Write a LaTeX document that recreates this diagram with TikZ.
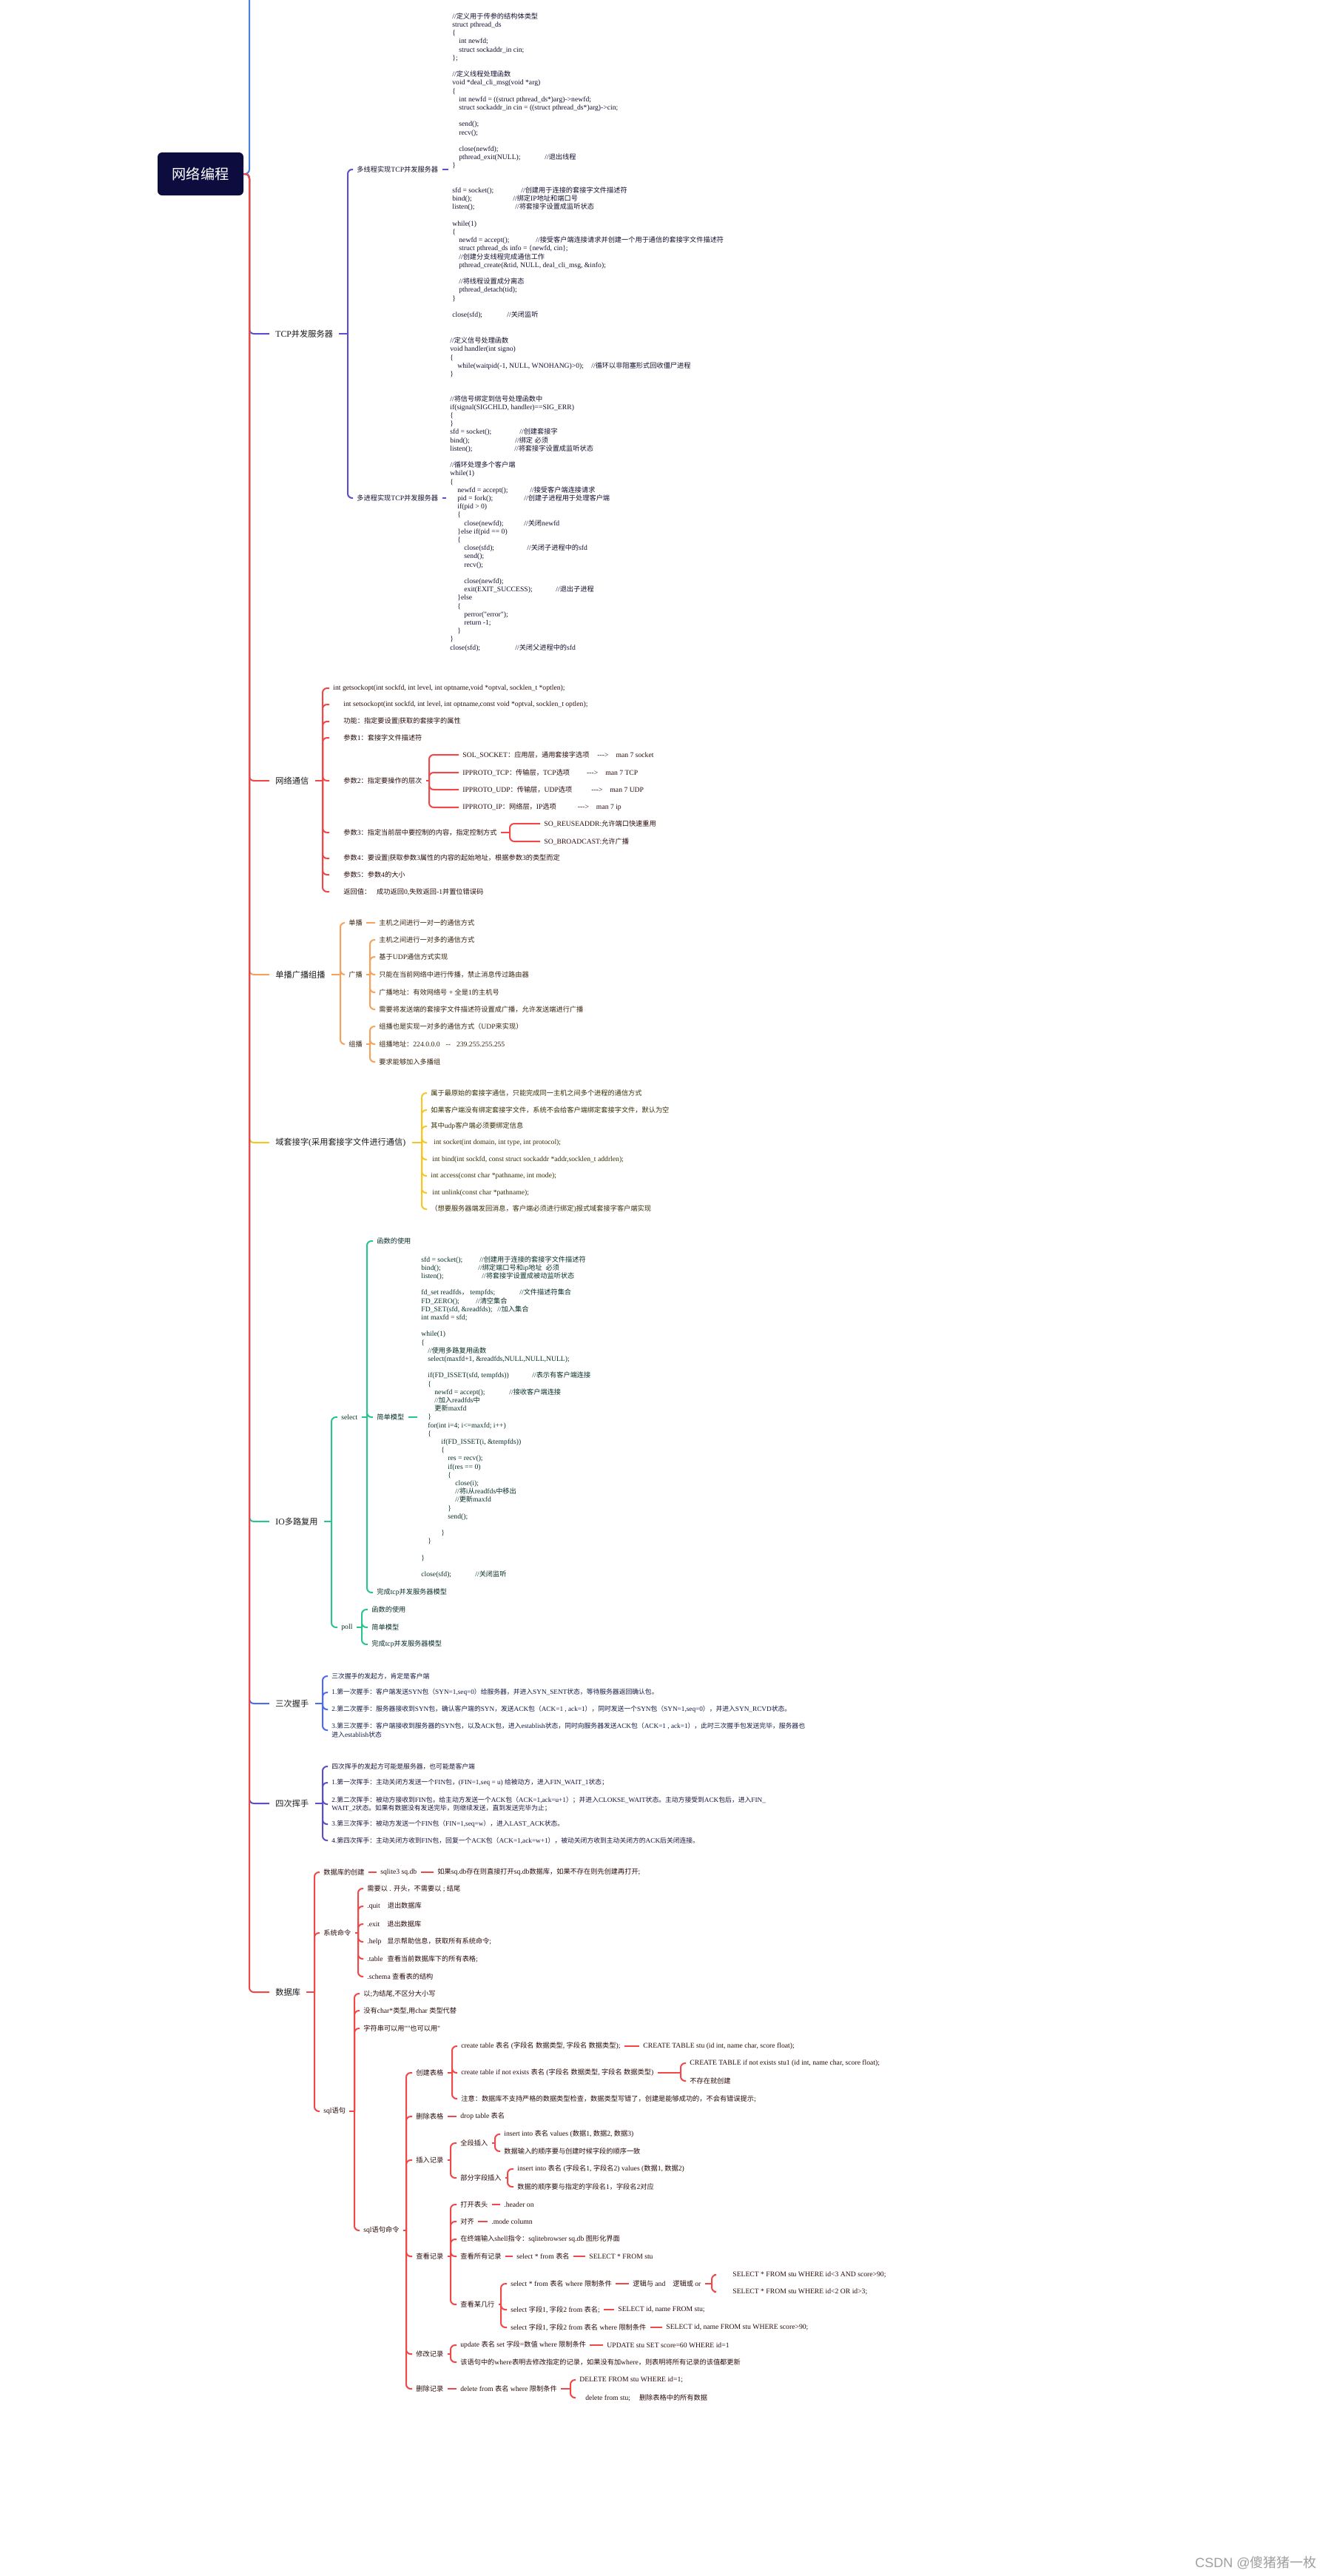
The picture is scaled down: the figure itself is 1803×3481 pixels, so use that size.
\documentclass[tikz,border=0pt]{standalone}
\usepackage{fontspec}
\setmainfont{Liberation Serif}[Ligatures=TeXOff, Scale=1.05]
\newfontfamily\cjkf{Noto Sans CJK SC}
\newfontfamily\wmf{Liberation Sans}
\usetikzlibrary{positioning}

% Chinese characters are set in Noto Sans CJK SC
\XeTeXinterchartokenstate=1
\newXeTeXintercharclass\cjkcls
\newcount\cc
\def\setcls#1#2#3{\cc=#1\relax\loop\XeTeXcharclass\cc=#3\relax\ifnum\cc<#2\relax\advance\cc by 1 \repeat}
\setcls{"21}{"7E}{0}
\setcls{"3000}{"303F}{\cjkcls}
\setcls{"4E00}{"9FFF}{\cjkcls}
\setcls{"FF00}{"FFEF}{\cjkcls}
\XeTeXinterchartoks 0 \cjkcls = {\cjkf}
\XeTeXinterchartoks 4095 \cjkcls = {\cjkf}
\XeTeXinterchartoks \cjkcls 0 = {\rmfamily}
\XeTeXinterchartoks \cjkcls 4095 = {\rmfamily}

\definecolor{rootbg}{HTML}{0C0C3E}
\definecolor{topblue}{HTML}{4A7FE0}
\definecolor{tcpline}{HTML}{5B4FCF}
\definecolor{netline}{HTML}{F04848}
\definecolor{castline}{HTML}{F5A25D}
\definecolor{unixline}{HTML}{F6C624}
\definecolor{ioline}{HTML}{2BC48C}
\definecolor{shakeline}{HTML}{4D6BF0}
\definecolor{waveline}{HTML}{5A4FC6}
\definecolor{dbline}{HTML}{F04848}
\definecolor{topictxt}{HTML}{1A1A1A}
\definecolor{tcptxt}{HTML}{141030}
\definecolor{nettxt}{HTML}{2C0C0C}
\definecolor{casttxt}{HTML}{38220C}
\definecolor{unixtxt}{HTML}{382E04}
\definecolor{iotxt}{HTML}{08302A}
\definecolor{shaketxt}{HTML}{121A44}
\definecolor{wavetxt}{HTML}{18143E}
\definecolor{dbtxt}{HTML}{2C0C0C}

% text placed at a column, offset in px
\newcommand{\cpos}[2]{\makebox[0pt][l]{\hspace*{\dimexpr#1pt/2\relax}#2}}

\begin{document}
\begin{tikzpicture}[x=0.5pt, y=-0.5pt,
  rootbox/.style={fill=rootbg, text=white, rounded corners=3pt, minimum width=58pt, minimum height=29pt, inner sep=0pt, font=\fontsize{9.6}{11}\selectfont},
  topic/.style={anchor=west, inner xsep=4pt, inner ysep=1pt, text=topictxt, font=\fontsize{5.6}{6.5}\selectfont},
  leaf/.style={anchor=west, inner xsep=2.5pt, inner ysep=1pt, align=left, font=\fontsize{4.6}{5.6}\selectfont},
  note/.style={leaf, font=\fontsize{4.4}{5.6}\selectfont},
  link/.style={line width=1pt, rounded corners=3pt}]
\fill[white] (0,0) rectangle (1803,3481);
\useasboundingbox (0,0) rectangle (1803,3481);

\node[rootbox] (root) at (271,235) {网络编程};
\coordinate (rootS) at (337,235);
\coordinate (topend) at (337,0);

\node[topic] (tcp) at (364,451) {TCP并发服务器};
\node[topic] (net) at (364,1055) {网络通信};
\node[topic] (cast) at (364,1317) {单播广播组播};
\node[topic] (unix) at (364,1544) {域套接字(采用套接字文件进行通信)};
\node[topic] (io) at (364,2056) {IO多路复用};
\node[topic] (shake) at (364,2302) {三次握手};
\node[topic] (wave) at (364,2437) {四次挥手};
\node[topic] (db) at (364,2692) {数据库};

% TCP
\begin{scope}[every node/.append style={text=tcptxt}]
\node[leaf] (mthr) at (477,229) {多线程实现TCP并发服务器};
\node[leaf] (mproc) at (477,673) {多进程实现TCP并发服务器};
\node[leaf] (mthrcode) at (606,224) {%
\cpos{0}{//定义用于传参的结构体类型}\\
\cpos{0}{struct pthread\_ds}\\
\cpos{0}{\{}\\
\cpos{9}{int newfd;}\\
\cpos{9}{struct sockaddr\_in cin;}\\
\cpos{0}{\};}\\
\mbox{}\\
\cpos{0}{//定义线程处理函数}\\
\cpos{0}{void *deal\_cli\_msg(void *arg)}\\
\cpos{0}{\{}\\
\cpos{9}{int newfd = ((struct pthread\_ds*)arg)->newfd;}\\
\cpos{9}{struct sockaddr\_in cin = ((struct pthread\_ds*)arg)->cin;}\\
\mbox{}\\
\cpos{9}{send();}\\
\cpos{9}{recv();}\\
\mbox{}\\
\cpos{9}{close(newfd);}\\
\cpos{9}{pthread\_exit(NULL);}\cpos{125}{//退出线程}\\
\cpos{0}{\}}\\
\mbox{}\\
\mbox{}\\
\cpos{0}{sfd = socket();}\cpos{93}{//创建用于连接的套接字文件描述符}\\
\cpos{0}{bind();}\cpos{82}{//绑定IP地址和端口号}\\
\cpos{0}{listen();}\cpos{85}{//将套接字设置成监听状态}\\
\mbox{}\\
\cpos{0}{while(1)}\\
\cpos{0}{\{}\\
\cpos{9}{newfd = accept();}\cpos{113}{//接受客户端连接请求并创建一个用于通信的套接字文件描述符}\\
\cpos{9}{struct pthread\_ds info = \{newfd, cin\};}\\
\cpos{9}{//创建分支线程完成通信工作}\\
\cpos{9}{pthread\_create(\&tid, NULL, deal\_cli\_msg, \&info);}\\
\mbox{}\\
\cpos{9}{//将线程设置成分离态}\\
\cpos{9}{pthread\_detach(tid);}\\
\cpos{0}{\}}\\
\mbox{}\\
\cpos{0}{close(sfd);}\cpos{74}{//关闭监听}};
\node[leaf] (mproccode) at (603,668) {%
\cpos{0}{//定义信号处理函数}\\
\cpos{0}{void handler(int signo)}\\
\cpos{0}{\{}\\
\cpos{10}{while(waitpid(-1, NULL, WNOHANG)>0);}\cpos{191}{//循环以非阻塞形式回收僵尸进程}\\
\cpos{0}{\}}\\
\mbox{}\\
\mbox{}\\
\cpos{0}{//将信号绑定到信号处理函数中}\\
\cpos{0}{if(signal(SIGCHLD, handler)==SIG\_ERR)}\\
\cpos{0}{\{}\\
\cpos{0}{\}}\\
\cpos{0}{sfd = socket();}\cpos{94}{//创建套接字}\\
\cpos{0}{bind();}\cpos{88}{//绑定 必须}\\
\cpos{0}{listen();}\cpos{87}{//将套接字设置成监听状态}\\
\mbox{}\\
\cpos{0}{//循环处理多个客户端}\\
\cpos{0}{while(1)}\\
\cpos{0}{\{}\\
\cpos{10}{newfd = accept();}\cpos{108}{//接受客户端连接请求}\\
\cpos{10}{pid = fork();}\cpos{100}{//创建子进程用于处理客户端}\\
\cpos{10}{if(pid > 0)}\\
\cpos{10}{\{}\\
\cpos{19}{close(newfd);}\cpos{100}{//关闭newfd}\\
\cpos{10}{\}else if(pid == 0)}\\
\cpos{10}{\{}\\
\cpos{19}{close(sfd);}\cpos{104}{//关闭子进程中的sfd}\\
\cpos{19}{send();}\\
\cpos{19}{recv();}\\
\mbox{}\\
\cpos{19}{close(newfd);}\\
\cpos{19}{exit(EXIT\_SUCCESS);}\cpos{143}{//退出子进程}\\
\cpos{10}{\}else}\\
\cpos{10}{\{}\\
\cpos{19}{perror("error");}\\
\cpos{19}{return -1;}\\
\cpos{10}{\}}\\
\cpos{0}{\}}\\
\cpos{0}{close(sfd);}\cpos{88}{//关闭父进程中的sfd}};
\end{scope}
\coordinate (tcpS) at (470,451);
\draw[link, tcpline] (tcp) -- (tcpS);
\foreach \c in {mthr,mproc} \draw[link, tcpline] (tcpS) |- (\c);
\draw[link, tcpline] (mthr) -- (mthr -| mthrcode.west);
\draw[link, tcpline] (mproc) -- (mproc -| mproccode.west);

% socket options
\begin{scope}[every node/.append style={text=nettxt}]
\node[leaf] (gso) at (445,930) {int getsockopt(int sockfd, int level, int optname,void *optval, socklen\_t *optlen);};
\node[leaf] (sso) at (445,952) {\hspace*{7pt}int setsockopt(int sockfd, int level, int optname,const void *optval, socklen\_t optlen);};
\node[leaf] (func) at (445,975) {\hspace*{7pt}功能：指定要设置|获取的套接字的属性};
\node[leaf] (par1) at (445,997) {\hspace*{7pt}参数1：套接字文件描述符};
\node[leaf] (par2) at (445,1055) {\hspace*{7pt}参数2：指定要操作的层次};
\node[leaf] (par3) at (445,1125) {\hspace*{7pt}参数3：指定当前层中要控制的内容，指定控制方式};
\node[leaf] (par4) at (445,1160) {\hspace*{7pt}参数4：要设置|获取参数3属性的内容的起始地址，根据参数3的类型而定};
\node[leaf] (par5) at (445,1182) {\hspace*{7pt}参数5：参数4的大小};
\node[leaf] (ret) at (445,1205) {\hspace*{7pt}返回值：\hspace{4pt}成功返回0,失败返回-1并置位错误码};
\node[leaf] (sol) at (620,1020) {SOL\_SOCKET：应用层，通用套接字选项\hspace{5.5pt}--->\hspace{5pt}man 7 socket};
\node[leaf] (iptcp) at (620,1044) {IPPROTO\_TCP：传输层，TCP选项\hspace{11.5pt}--->\hspace{5pt}man 7 TCP};
\node[leaf] (ipudp) at (620,1067) {IPPROTO\_UDP：传输层，UDP选项\hspace{13pt}--->\hspace{5pt}man 7 UDP};
\node[leaf] (ipip) at (620,1091) {IPPROTO\_IP：网络层，IP选项\hspace{14.5pt}--->\hspace{5pt}man 7 ip};
\node[leaf] (reuse) at (730,1113) {SO\_REUSEADDR:允许端口快速重用};
\node[leaf] (bcast) at (730,1137) {SO\_BROADCAST:允许广播};
\end{scope}
\coordinate (netS) at (436,1055);
\coordinate (par2S) at (580,1055);
\coordinate (par3S) at (689,1125);
\draw[link, netline] (net) -- (netS);
\foreach \c in {gso,sso,func,par1,par2,par3,par4,par5,ret} \draw[link, netline] (netS) |- (\c);
\draw[link, netline] (par2) -- (par2S);
\foreach \c in {sol,iptcp,ipudp,ipip} \draw[link, netline] (par2S) |- (\c);
\draw[link, netline] (par3) -- (par3S);
\foreach \c in {reuse,bcast} \draw[link, netline] (par3S) |- (\c);

% unicast / broadcast / multicast
\begin{scope}[every node/.append style={text=casttxt}]
\node[leaf] (uni) at (466,1247) {单播};
\node[leaf] (bro) at (466,1317) {广播};
\node[leaf] (mul) at (466,1411) {组播};
\node[leaf] (unit) at (507,1247) {主机之间进行一对一的通信方式};
\node[leaf] (b1) at (507,1270) {主机之间进行一对多的通信方式};
\node[leaf] (b2) at (507,1293) {基于UDP通信方式实现};
\node[leaf] (b3) at (507,1317) {只能在当前网络中进行传播，禁止消息传过路由器};
\node[leaf] (b4) at (507,1341) {广播地址：有效网络号 + 全是1的主机号};
\node[leaf] (b5) at (507,1364) {需要将发送端的套接字文件描述符设置成广播，允许发送端进行广播};
\node[leaf] (m1) at (507,1387) {组播也是实现一对多的通信方式（UDP来实现）};
\node[leaf] (m2) at (507,1411) {组播地址：224.0.0.0\hspace{4pt}--\hspace{4pt}239.255.255.255};
\node[leaf] (m3) at (507,1435) {要求能够加入多播组};
\end{scope}
\coordinate (castS) at (460,1317);
\coordinate (broS) at (500,1317);
\coordinate (mulS) at (500,1411);
\draw[link, castline] (cast) -- (castS);
\foreach \c in {uni,bro,mul} \draw[link, castline] (castS) |- (\c);
\draw[link, castline] (uni) -- (unit);
\draw[link, castline] (bro) -- (broS);
\foreach \c in {b1,b2,b3,b4,b5} \draw[link, castline] (broS) |- (\c);
\draw[link, castline] (mul) -- (mulS);
\foreach \c in {m1,m2,m3} \draw[link, castline] (mulS) |- (\c);

% domain sockets
\begin{scope}[every node/.append style={text=unixtxt}]
\node[leaf] (u1) at (577,1477) {属于最原始的套接字通信，只能完成同一主机之间多个进程的通信方式};
\node[leaf] (u2) at (577,1500) {如果客户端没有绑定套接字文件，系统不会给客户端绑定套接字文件，默认为空};
\node[leaf] (u3) at (577,1522) {其中udp客户端必须要绑定信息};
\node[leaf] (u4) at (577,1544) {\hspace*{2pt}int socket(int domain, int type, int protocol);};
\node[leaf] (u5) at (577,1567) {\hspace*{1pt}int bind(int sockfd, const struct sockaddr *addr,socklen\_t addrlen);};
\node[leaf] (u6) at (577,1589) {int access(const char *pathname, int mode);};
\node[leaf] (u7) at (577,1612) {\hspace*{1pt}int unlink(const char *pathname);};
\node[leaf] (u8) at (577,1634) {（想要服务器端发回消息，客户端必须进行绑定)报式域套接字客户端实现};
\end{scope}
\coordinate (unixS) at (570,1544);
\draw[link, unixline] (unix) -- (unixS);
\foreach \c in {u1,u2,u3,u4,u5,u6,u7,u8} \draw[link, unixline] (unixS) |- (\c);

% IO multiplexing
\begin{scope}[every node/.append style={text=iotxt}]
\node[leaf] (sel) at (456,1915) {select};
\node[leaf] (poll) at (456,2199) {poll};
\node[leaf] (selfn) at (504,1677) {函数的使用};
\node[leaf] (selsm) at (504,1915) {简单模型};
\node[leaf] (seltcp) at (504,2152) {完成tcp并发服务器模型};
\node[leaf] (pfn) at (497,2175) {函数的使用};
\node[leaf] (psm) at (497,2199) {简单模型};
\node[leaf] (ptcp) at (497,2222) {完成tcp并发服务器模型};
\node[leaf] (selcode) at (564,1915) {%
\cpos{0}{sfd = socket();}\cpos{79}{//创建用于连接的套接字文件描述符}\\
\cpos{0}{bind();}\cpos{77}{//绑定端口号和ip地址\ \ 必须}\\
\cpos{0}{listen();}\cpos{82}{//将套接字设置成被动监听状态}\\
\mbox{}\\
\cpos{0}{fd\_set readfds，\ tempfds;}\cpos{133}{//文件描述符集合}\\
\cpos{0}{FD\_ZERO();}\cpos{74}{//清空集合}\\
\cpos{0}{FD\_SET(sfd, \&readfds);}\cpos{103}{//加入集合}\\
\cpos{0}{int maxfd = sfd;}\\
\mbox{}\\
\cpos{0}{while(1)}\\
\cpos{0}{\{}\\
\cpos{9}{//使用多路复用函数}\\
\cpos{9}{select(maxfd+1, \&readfds,NULL,NULL,NULL);}\\
\mbox{}\\
\cpos{9}{if(FD\_ISSET(sfd, tempfds))}\cpos{150}{//表示有客户端连接}\\
\cpos{9}{\{}\\
\cpos{18}{newfd = accept();}\cpos{119}{//接收客户端连接}\\
\cpos{18}{//加入readfds中}\\
\cpos{18}{更新maxfd}\\
\cpos{9}{\}}\\
\cpos{9}{for(int i=4; i<=maxfd; i++)}\\
\cpos{9}{\{}\\
\cpos{27}{if(FD\_ISSET(i, \&tempfds))}\\
\cpos{27}{\{}\\
\cpos{36}{res = recv();}\\
\cpos{36}{if(res == 0)}\\
\cpos{36}{\{}\\
\cpos{46}{close(i);}\\
\cpos{46}{//将i从readfds中移出}\\
\cpos{46}{//更新maxfd}\\
\cpos{36}{\}}\\
\cpos{36}{send();}\\
\mbox{}\\
\cpos{27}{\}}\\
\cpos{9}{\}}\\
\mbox{}\\
\cpos{0}{\}}\\
\mbox{}\\
\cpos{0}{close(sfd);}\cpos{73}{//关闭监听}};
\end{scope}
\coordinate (ioS) at (448,2056);
\coordinate (selS) at (496,1915);
\coordinate (pollS) at (489,2199);
\draw[link, ioline] (io) -- (ioS);
\foreach \c in {sel,poll} \draw[link, ioline] (ioS) |- (\c);
\draw[link, ioline] (sel) -- (selS);
\foreach \c in {selfn,selsm,seltcp} \draw[link, ioline] (selS) |- (\c);
\draw[link, ioline] (selsm) -- (selsm -| selcode.west);
\draw[link, ioline] (poll) -- (pollS);
\foreach \c in {pfn,psm,ptcp} \draw[link, ioline] (pollS) |- (\c);

% handshake
\begin{scope}[every node/.append style={text=shaketxt}]
\node[note] (s1) at (443,2265) {三次握手的发起方，肯定是客户端};
\node[note] (s2) at (443,2287) {1.第一次握手：客户端发送SYN包（SYN=1,seq=0）给服务器，并进入SYN\_SENT状态，等待服务器返回确认包。};
\node[note] (s3) at (443,2310) {2.第二次握手：服务器接收到SYN包，确认客户端的SYN，发送ACK包（ACK=1 , ack=1），同时发送一个SYN包（SYN=1,seq=0），并进入SYN\_RCVD状态。};
\node[note] (s4) at (443,2338) {3.第三次握手：客户端接收到服务器的SYN包，以及ACK包，进入establish状态，同时向服务器发送ACK包（ACK=1 , ack=1），此时三次握手包发送完毕，服务器也\\进入establish状态};
\end{scope}
\coordinate (shakeS) at (436,2302);
\draw[link, shakeline] (shake) -- (shakeS);
\foreach \c in {s1,s2,s3,s4} \draw[link, shakeline] (shakeS) |- (\c);

% wave
\begin{scope}[every node/.append style={text=wavetxt}]
\node[note] (w1) at (443,2387) {四次挥手的发起方可能是服务器，也可能是客户端};
\node[note] (w2) at (443,2409) {1.第一次挥手：主动关闭方发送一个FIN包，(FIN=1,seq = u) 给被动方，进入FIN\_WAIT\_1状态；};
\node[note] (w3) at (443,2438) {2.第二次挥手：被动方接收到FIN包，给主动方发送一个ACK包（ACK=1,ack=u+1）；并进入CLOKSE\_WAIT状态。主动方接受到ACK包后，进入FIN\_\\WAIT\_2状态。如果有数据没有发送完毕，则继续发送，直到发送完毕为止；};
\node[note] (w4) at (443,2465) {3.第三次挥手：被动方发送一个FIN包（FIN=1,seq=w），进入LAST\_ACK状态。};
\node[note] (w5) at (443,2487) {4.第四次挥手：主动关闭方收到FIN包，回复一个ACK包（ACK=1,ack=w+1），被动关闭方收到主动关闭方的ACK后关闭连接。};
\end{scope}
\coordinate (waveS) at (436,2437);
\draw[link, waveline] (wave) -- (waveS);
\foreach \c in {w1,w2,w3,w4,w5} \draw[link, waveline] (waveS) |- (\c);

% database
\begin{scope}[every node/.append style={text=dbtxt}]
\node[leaf] (dbnew) at (432,2530) {数据库的创建};
\node[leaf] (dbsys) at (432,2612) {系统命令};
\node[leaf] (sql) at (432,2853) {sql语句};
\node[leaf] (sqlite) at (509,2530) {sqlite3 sq.db};
\node[leaf] (sqlitei) at (586,2530) {如果sq.db存在则直接打开sq.db数据库，如果不存在则先创建再打开;};
\node[leaf] (c1) at (491,2552) {需要以 . 开头，不需要以 ; 结尾};
\node[leaf] (c2) at (491,2576) {.quit\hspace{5pt}退出数据库};
\node[leaf] (c3) at (491,2600) {.exit\hspace{5pt}退出数据库};
\node[leaf] (c4) at (491,2624) {.help\hspace{4pt}显示帮助信息，获取所有系统命令;};
\node[leaf] (c5) at (491,2647) {.table\hspace{3pt}查看当前数据库下的所有表格;};
\node[leaf] (c6) at (491,2671) {.schema 查看表的结构};
\node[leaf] (q1) at (486,2694) {以;为结尾,不区分大小写};
\node[leaf] (q2) at (486,2717) {没有char*类型,用char 类型代替};
\node[leaf] (q3) at (486,2741) {字符串可以用""也可以用''};
\node[leaf] (cmd) at (486,3014) {sql语句命令};
\node[leaf] (mk) at (557,2801) {创建表格};
\node[leaf] (drop) at (557,2860) {删除表格};
\node[leaf] (ins) at (557,2919) {插入记录};
\node[leaf] (look) at (557,3049) {查看记录};
\node[leaf] (upd) at (557,3181) {修改记录};
\node[leaf] (del) at (557,3228) {删除记录};
\node[leaf] (mk1) at (618,2765) {create table 表名 (字段名 数据类型, 字段名 数据类型);};
\node[leaf] (mk2) at (618,2801) {create table if not exists 表名 (字段名 数据类型, 字段名 数据类型)};
\node[leaf] (mk3) at (618,2836) {注意：数据库不支持严格的数据类型检查，数据类型写错了，创建是能够成功的，不会有错误提示;};
\node[leaf] (mk1x) at (864,2765) {CREATE TABLE stu (id int, name char, score float);};
\node[leaf] (mk2a) at (927,2788) {CREATE TABLE if not exists stu1 (id int, name char, score float);};
\node[leaf] (mk2b) at (927,2812) {不存在就创建};
\node[leaf] (dropx) at (617,2860) {drop table 表名};
\node[leaf] (insall) at (617,2896) {全段插入};
\node[leaf] (inspart) at (617,2943) {部分字段插入};
\node[leaf] (ia1) at (676,2884) {insert into 表名 values (数据1, 数据2, 数据3)};
\node[leaf] (ia2) at (676,2907) {数据输入的顺序要与创建时候字段的顺序一致};
\node[leaf] (ip1) at (694,2931) {insert into 表名 (字段名1, 字段名2) values (数据1, 数据2)};
\node[leaf] (ip2) at (694,2955) {数据的顺序要与指定的字段名1，字段名2对应};
\node[leaf] (hdr) at (617,2979) {打开表头};
\node[leaf] (hdrx) at (676,2979) {.header on};
\node[leaf] (aln) at (617,3002) {对齐};
\node[leaf] (alnx) at (659,3002) {.mode column};
\node[leaf] (gui) at (617,3026) {在终端输入shell指令：sqlitebrowser sq.db 图形化界面};
\node[leaf] (all) at (617,3049) {查看所有记录};
\node[leaf] (allsel) at (693,3049) {select * from 表名};
\node[leaf] (allx) at (791,3049) {SELECT * FROM stu};
\node[leaf] (some) at (617,3114) {查看某几行};
\node[leaf] (sw) at (685,3086) {select * from 表名 where 限制条件};
\node[leaf] (sf) at (685,3121) {select 字段1, 字段2 from 表名;};
\node[leaf] (sfw) at (685,3145) {select 字段1, 字段2 from 表名 where 限制条件};
\node[leaf] (logic) at (850,3086) {逻辑与 and\hspace{5pt}逻辑或 or};
\node[leaf] (andx) at (965,3074) {\hspace*{10pt}SELECT * FROM stu WHERE id<3 AND score>90;};
\node[leaf] (orx) at (965,3097) {\hspace*{10pt}SELECT * FROM stu WHERE id<2 OR id>3;};
\node[leaf] (sfx) at (830,3121) {SELECT id, name FROM stu;};
\node[leaf] (sfwx) at (895,3145) {SELECT id, name FROM stu WHERE score>90;};
\node[leaf] (upd1) at (617,3169) {update 表名 set 字段=数值 where 限制条件};
\node[leaf] (upd2) at (617,3192) {该语句中的where表明去修改指定的记录，如果没有加where，则表明将所有记录的该值都更新};
\node[leaf] (updx) at (815,3169) {UPDATE stu SET score=60 WHERE id=1};
\node[leaf] (delx) at (617,3228) {delete from 表名 where 限制条件};
\node[leaf] (del1) at (778,3216) {DELETE FROM stu WHERE id=1;};
\node[leaf] (del2) at (778,3240) {\hspace*{4pt}delete from stu;\hspace{6pt}删除表格中的所有数据};
\end{scope}
\coordinate (dbS) at (425,2692);
\coordinate (dbsysS) at (484,2612);
\coordinate (sqlS) at (479,2853);
\coordinate (cmdS) at (549,3014);
\coordinate (mkS) at (611,2801);
\coordinate (mk2S) at (920,2801);
\coordinate (insS) at (609,2919);
\coordinate (insallS) at (669,2896);
\coordinate (inspartS) at (686,2943);
\coordinate (lookS) at (609,3049);
\coordinate (someS) at (677,3114);
\coordinate (logicS) at (962,3086);
\coordinate (updS) at (609,3181);
\coordinate (delS) at (771,3228);
\draw[link, dbline] (db) -- (dbS);
\foreach \c in {dbnew,dbsys,sql} \draw[link, dbline] (dbS) |- (\c);
\draw[link, dbline] (dbnew) -- (sqlite);
\draw[link, dbline] (sqlite) -- (sqlitei);
\draw[link, dbline] (dbsys) -- (dbsysS);
\foreach \c in {c1,c2,c3,c4,c5,c6} \draw[link, dbline] (dbsysS) |- (\c);
\draw[link, dbline] (sql) -- (sqlS);
\foreach \c in {q1,q2,q3,cmd} \draw[link, dbline] (sqlS) |- (\c);
\draw[link, dbline] (cmd) -- (cmdS);
\foreach \c in {mk,drop,ins,look,upd,del} \draw[link, dbline] (cmdS) |- (\c);
\draw[link, dbline] (mk) -- (mkS);
\foreach \c in {mk1,mk2,mk3} \draw[link, dbline] (mkS) |- (\c);
\draw[link, dbline] (mk1) -- (mk1x);
\draw[link, dbline] (mk2) -- (mk2S);
\foreach \c in {mk2a,mk2b} \draw[link, dbline] (mk2S) |- (\c);
\draw[link, dbline] (drop) -- (dropx);
\draw[link, dbline] (ins) -- (insS);
\foreach \c in {insall,inspart} \draw[link, dbline] (insS) |- (\c);
\draw[link, dbline] (insall) -- (insallS);
\foreach \c in {ia1,ia2} \draw[link, dbline] (insallS) |- (\c);
\draw[link, dbline] (inspart) -- (inspartS);
\foreach \c in {ip1,ip2} \draw[link, dbline] (inspartS) |- (\c);
\draw[link, dbline] (look) -- (lookS);
\foreach \c in {hdr,aln,gui,all,some} \draw[link, dbline] (lookS) |- (\c);
\draw[link, dbline] (hdr) -- (hdrx);
\draw[link, dbline] (aln) -- (alnx);
\draw[link, dbline] (all) -- (allsel);
\draw[link, dbline] (allsel) -- (allx);
\draw[link, dbline] (some) -- (someS);
\foreach \c in {sw,sf,sfw} \draw[link, dbline] (someS) |- (\c);
\draw[link, dbline] (sw) -- (logic);
\draw[link, dbline] (logic) -- (logicS);
\foreach \c in {andx,orx} \draw[link, dbline] (logicS) |- (\c);
\draw[link, dbline] (sf) -- (sfx);
\draw[link, dbline] (sfw) -- (sfwx);
\draw[link, dbline] (upd) -- (updS);
\foreach \c in {upd1,upd2} \draw[link, dbline] (updS) |- (\c);
\draw[link, dbline] (upd1) -- (updx);
\draw[link, dbline] (del) -- (delx);
\draw[link, dbline] (delx) -- (delS);
\foreach \c in {del1,del2} \draw[link, dbline] (delS) |- (\c);

% main branches from the root
\draw[link, topblue] (root) -- (rootS) -- (topend);
\draw[link, tcpline] (root) -- (rootS) |- (tcp);
\draw[link, netline] (root) -- (rootS) |- (net);
\draw[link, castline] (root) -- (rootS) |- (cast);
\draw[link, unixline] (root) -- (rootS) |- (unix);
\draw[link, ioline] (root) -- (rootS) |- (io);
\draw[link, shakeline] (root) -- (rootS) |- (shake);
\draw[link, waveline] (root) -- (rootS) |- (wave);
\draw[link, dbline] (root) -- (rootS) |- (db);

\node[anchor=east, text=gray!75, font=\wmf\fontsize{9}{10}\selectfont] (csdn) at (1787,3463) {CSDN @傻猪猪一枚};
\end{tikzpicture}
\end{document}
